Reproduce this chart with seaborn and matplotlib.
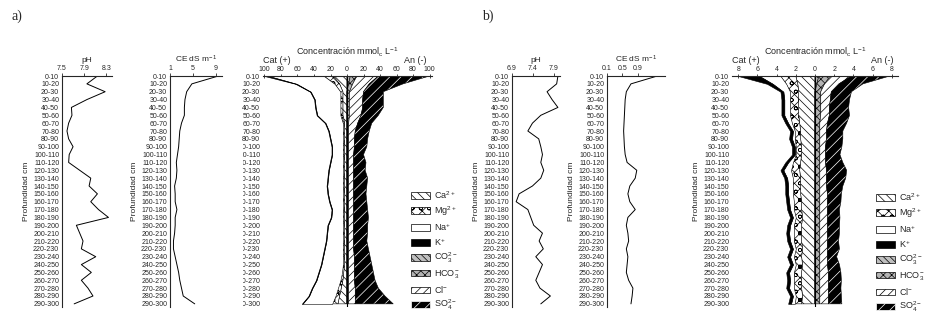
import numpy as np
import matplotlib
matplotlib.use('Agg')
import matplotlib.pyplot as plt
from matplotlib.patches import Patch, Rectangle
import seaborn as sns

sns.set_style('ticks')
plt.rcParams['font.family'] = ['Liberation Sans', 'DejaVu Sans']
plt.rcParams['mathtext.default'] = 'regular'
plt.rcParams['hatch.linewidth'] = 0.5

# profundidad (cm)
depth_labels = [f'{d}-{d + 10}' for d in range(0, 300, 10)]
rows = np.arange(len(depth_labels))

# ---- perfil a) ----
ph_a = [8.14, 7.95, 8.28, 7.95, 7.67, 7.68, 7.62, 7.59, 7.62, 7.70,
        7.63, 7.62, 7.82, 8.02, 7.99, 8.14, 8.02, 8.16, 8.34, 7.76,
        7.82, 7.88, 7.85, 8.11, 7.85, 8.03, 7.85, 7.97, 8.06, 7.72]
ce_a = [9.4, 4.8, 3.9, 3.6, 3.5, 3.5, 3.0, 2.7, 2.6, 2.5,
        2.3, 2.1, 2.2, 2.1, 1.8, 1.9, 1.9, 2.2, 1.9, 1.9,
        1.8, 1.6, 1.6, 1.9, 2.2, 2.5, 2.7, 3.0, 3.3, 5.3]
ca_a = [17, 9, 5, 5, 5, 5, 3, 3, 3, 3, 3, 3, 3, 3, 3,
        3, 3, 3, 3, 3, 3, 3, 3, 3, 3, 4, 5, 7, 9, 11]
mg_a = [11, 6, 3, 3, 3, 3, 2, 2, 2, 2, 2, 2, 2, 2, 2,
        2, 2, 2, 2, 2, 2, 2, 2, 2, 2, 2, 3, 4, 5, 7]
na_a = [67, 46, 36, 31, 30, 28, 21, 17, 15, 13,
        13, 15, 17, 18, 19, 18, 16, 13, 14, 18,
        19, 20, 22, 24, 26, 28, 29, 31, 32, 36]
k_a = [5, 1.5] + [0.8] * 28
co3_a = [4, 2] + [0] * 28
hco3_a = [8, 5, 3, 3, 3, 3] + [2] * 24
cl_a = [26, 20, 17, 16, 16, 14, 11, 8, 7, 7, 6, 6, 6, 6, 6,
        6, 6, 6, 6, 6, 6, 6, 6, 7, 7, 7, 7, 8, 8, 8]
so4_a = [62, 41, 24, 25, 25, 21, 17, 17, 16, 15, 12, 15, 14, 17, 16,
         15, 16, 17, 18, 17, 17, 16, 18, 19, 21, 23, 25, 28, 36, 46]

# ---- perfil b) ----
ph_b = [8.00, 7.97, 7.74, 7.86, 8.00, 7.59, 7.39, 7.28, 7.54, 7.59,
        7.63, 7.59, 7.66, 7.59, 7.39, 7.07, 7.00, 7.28, 7.35, 7.42,
        7.63, 7.55, 7.65, 7.47, 7.63, 7.55, 7.47, 7.57, 7.82, 7.59]
ce_b = [1.40, 0.72, 0.60, 0.57, 0.56, 0.55, 0.54, 0.53, 0.54, 0.55,
        0.57, 0.62, 0.87, 0.83, 0.69, 0.64, 0.69, 0.83, 0.64, 0.60,
        0.64, 0.66, 0.60, 0.64, 0.62, 0.60, 0.66, 0.77, 0.75, 0.72]
ca_b = [2.0, 1.8, 1.7, 1.7, 1.7, 1.7, 1.6, 1.5, 1.5, 1.4, 1.4, 1.5, 1.6, 1.5, 1.5,
        1.5, 1.4, 1.4, 1.3, 1.4, 1.4, 1.4, 1.3, 1.4, 1.3, 1.4, 1.4, 1.4, 1.3, 1.4]
mg_b = [1.6, 1.2, 0.9, 0.9, 0.9, 0.9, 0.8, 0.6, 0.6, 0.6, 0.6, 0.8, 0.9, 0.8, 0.8,
        0.8, 0.8, 0.8, 0.7, 0.8, 0.8, 0.8, 0.7, 0.8, 0.7, 0.8, 0.8, 0.8, 0.7, 0.7]
na_b = [2.2, 1.4, 0.7, 0.6, 0.6, 0.6, 0.4, 0.2, 0.3, 0.1, 0.1, 0.5, 0.8, 0.6, 0.5,
        0.5, 0.5, 0.4, 0.3, 0.4, 0.5, 0.4, 0.3, 0.4, 0.3, 0.5, 0.4, 0.5, 0.3, 0.4]
k_b = [2.2, 0.6] + [0.3] * 28
co3_b = [0.4, 0.2] + [0] * 28
hco3_b = [1.2, 0.8, 0.6, 0.6, 0.6, 0.6] + [0.5] * 24
cl_b = [2.2, 1.5, 1.1, 1.0, 0.9, 0.9, 0.8, 0.7, 0.7, 0.6, 0.6, 0.6, 0.7, 0.7, 0.7,
        0.8, 0.8, 0.8, 0.8, 0.8, 0.8, 0.8, 0.8, 0.8, 0.8, 0.9, 0.9, 0.9, 0.9, 0.9]
so4_b = [4.0, 2.5, 2.1, 2.0, 2.0, 2.1, 2.0, 1.7, 1.7, 1.7, 1.5, 1.8, 2.1, 2.0, 1.7,
         1.45, 1.4, 1.25, 1.3, 1.25, 1.25, 1.15, 1.25, 0.95, 1.25, 1.3, 1.35, 1.3, 1.35, 1.4]

ion_labels = ['Ca$^{2+}$', 'Mg$^{2+}$', 'Na$^{+}$', 'K$^{+}$',
              'CO$_3^{2-}$', 'HCO$_3^{-}$', 'Cl$^{-}$', 'SO$_4^{2-}$']
ion_styles = [
    dict(facecolor='white', edgecolor='black', hatch='\\\\\\\\'),
    dict(facecolor='white', edgecolor='black', hatch='xxxoo'),
    dict(facecolor='white', edgecolor='black'),
    dict(facecolor='black', edgecolor='black'),
    dict(facecolor='0.75', edgecolor='black', hatch='\\\\\\\\\\'),
    dict(facecolor='0.7', edgecolor='black', hatch='xxxx'),
    dict(facecolor='white', edgecolor='black', hatch='////'),
    dict(facecolor='black', edgecolor='white', hatch='///'),
]

W, H = 929, 318
fig = plt.figure(figsize=(W / 100, H / 100), dpi=100)
TOP, BOT = 76, 307


def new_ax(x0, x1):
    return fig.add_axes([x0 / W, 1 - BOT / H, (x1 - x0) / W, (BOT - TOP) / H], facecolor='none')


def depth_axis(ax, ylabel=True):
    ax.set_ylim(len(rows) - 0.6, 0)
    ax.set_yticks(rows)
    ax.set_yticklabels(depth_labels)
    ax.tick_params(axis='y', length=0, pad=2, labelsize=5)
    ax.xaxis.tick_top()
    ax.xaxis.set_label_position('top')
    ax.tick_params(axis='x', length=2, width=0.6, pad=1, labelsize=5)
    ax.spines['right'].set_visible(False)
    ax.spines['bottom'].set_visible(False)
    for s in ['left', 'top']:
        ax.spines[s].set_linewidth(0.8)
    ax.set_ylabel('Profundidad cm' if ylabel else '', fontsize=6, labelpad=2)


def profile(x0, x1, values, xlim, ticks, title):
    ax = new_ax(x0, x1)
    sns.lineplot(x=values, y=rows, sort=False, estimator=None, color='black', lw=0.7, ax=ax)
    ax.set_xlim(xlim)
    ax.set_xticks(ticks)
    ax.set_xticklabels([str(t) for t in ticks])
    depth_axis(ax)
    ax.set_xlabel(title, fontsize=6, labelpad=2)
    return ax


def conc(x0, x1, cations, anions, xlim, ticks, ylabel):
    ax = new_ax(x0, x1)
    inner = np.zeros(len(rows))
    for vals, st in zip(cations, ion_styles[:4]):
        outer = inner + np.array(vals, float)
        ax.fill_betweenx(rows, -inner, -outer, lw=0.4, **st)
        inner = outer
    inner = np.zeros(len(rows))
    for vals, st in zip(anions, ion_styles[4:]):
        outer = inner + np.array(vals, float)
        ax.fill_betweenx(rows, inner, outer, lw=0 if st['edgecolor'] == 'white' else 0.4, **st)
        if st['edgecolor'] == 'white':
            ax.fill_betweenx(rows, inner, outer, facecolor='none', edgecolor='black', lw=0.4)
        inner = outer
    ax.axvline(0, color='black', lw=0.8)
    ax.set_xlim(xlim)
    ax.set_xticks(ticks)
    ax.set_xticklabels([str(abs(t)) for t in ticks])
    depth_axis(ax, ylabel)
    ax.spines['left'].set_visible(False)
    ax.tick_params(axis='x', direction='inout', length=3)
    ax.text(0.5, 1.104, 'Concentración mmol$_c$ L$^{-1}$', transform=ax.transAxes,
            fontsize=6.5, ha='center', va='center')
    ax.text(0.0, 1.066, 'Cat (+)', transform=ax.transAxes, fontsize=6.5, ha='left', va='center')
    ax.text(0.97, 1.066, 'An (-)', transform=ax.transAxes, fontsize=6.5, ha='right', va='center')
    return ax


# a)
profile(62, 112, ph_a, (7.535, 8.404), [7.5, 7.9, 8.3], 'pH')
profile(170, 222, ce_a, (1, 10.04), [1, 5, 9], 'CE dS m$^{-1}$')
conc(263, 432, [ca_a, mg_a, na_a, k_a], [co3_a, hco3_a, cl_a, so4_a],
     (-101.8, 103), [-100, -80, -60, -40, -20, 0, 20, 40, 60, 80, 100], False)

# b)
profile(512, 560, ph_b, (6.935, 8.05), [6.9, 7.4, 7.9], 'pH')
profile(607, 665, ce_b, (0.1, 1.6), [0.1, 0.5, 0.9], 'CE dS m$^{-1}$')
conc(732, 898, [ca_b, mg_b, na_b, k_b], [co3_b, hco3_b, cl_b, so4_b],
     (-8.65, 8.65), [-8, -6, -4, -2, 0, 2, 4, 6, 8], True)

# franja blanca que tapa el borde de las etiquetas en a)
fig.patches.append(Rectangle((226 / W, 1 - 312 / H), 17 / W, 170 / H, transform=fig.transFigure,
                             facecolor='white', edgecolor='none', zorder=10))

handles = [Patch(lw=0.5, **st) for st in ion_styles]
for lx, ly in [(411, 189), (876, 191)]:
    fig.legend(handles, ion_labels, loc='upper left', bbox_to_anchor=(lx / W, 1 - ly / H),
               frameon=False, fontsize=6.5, handlelength=2.1, handleheight=0.75,
               labelspacing=0.36, handletextpad=0.4, borderaxespad=0, borderpad=0)

fig.text(12 / W, 1 - 16 / H, 'a)', family=['Liberation Serif'], fontsize=10, va='center')
fig.text(482 / W, 1 - 16 / H, 'b)', family=['Liberation Serif'], fontsize=10, va='center')

fig.savefig('out.png', dpi=100)
